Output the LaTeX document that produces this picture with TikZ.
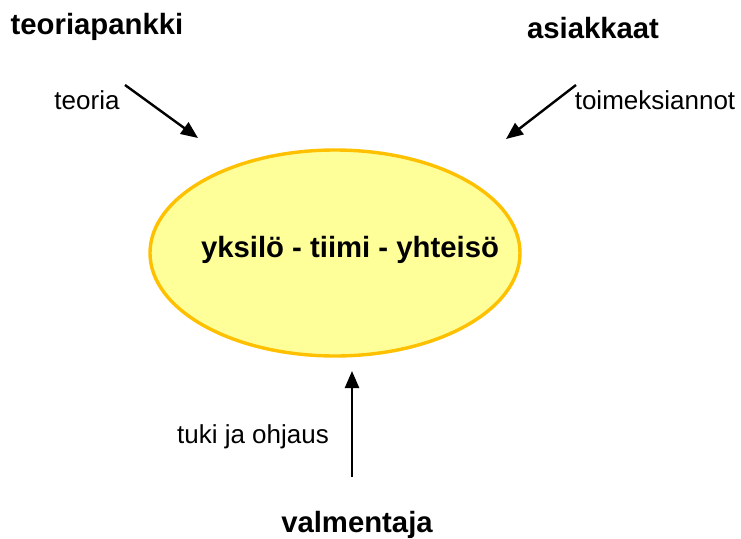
\documentclass[tikz,border=0pt]{standalone}
\usepackage{fontspec}
\setmainfont{Liberation Sans}
\usetikzlibrary{arrows.meta}
\usetikzlibrary{positioning}
\usetikzlibrary{shapes.geometric}
\definecolor{lightyellow}{HTML}{FFFF99}
\definecolor{goldrim}{HTML}{FFC000}

\begin{document}
\begin{tikzpicture}[x=1pt,y=-1pt,>={Triangle[length=17pt,width=14pt]},
    lbl/.style={font=\fontsize{26}{30}\selectfont},
    head/.style={font=\fontsize{29.3}{34}\selectfont\bfseries},
    flow/.style={->,line width=2.4pt}]
    \useasboundingbox (0,0) rectangle (741,538);

            % Centre ellipse
            \node [draw=goldrim, fill=lightyellow, line width=3.4pt, ellipse, minimum width=370pt, minimum height=206pt, inner sep=0pt] (yty) at (335,253) {};
            \node [head] (ytyText) at (350,250) {yksilö - tiimi - yhteisö};

            % Sources
            \node [head] (pankki) at (97,27) {teoriapankki};
            \node [head] (asiakas) at (593,28) {asiakkaat};
            \node [head] (valm) at (357,525) {valmentaja};

            % Arrow ends
            \coordinate (pankkiOut) at (125,85);
            \coordinate (pankkiIn) at (198,138);
            \coordinate (asiakasOut) at (576,85);
            \coordinate (asiakasIn) at (506,139);
            \coordinate (valmOut) at (352,477);
            \coordinate (valmIn) at (352,371);

            % Connections
            \draw [flow] (pankkiOut) -- (pankkiIn);
            \draw [flow] (asiakasOut) -- (asiakasIn);
            \draw [flow] (valmOut) -- (valmIn);

            % Labels
            \node [lbl] (teoria) at (87,100) {teoria};
            \node [lbl] (toimeksi) at (655,100) {toimeksiannot};
            \node [lbl] (tuki) at (253,437) {tuki ja ohjaus};

        \end{tikzpicture}
\end{document}
